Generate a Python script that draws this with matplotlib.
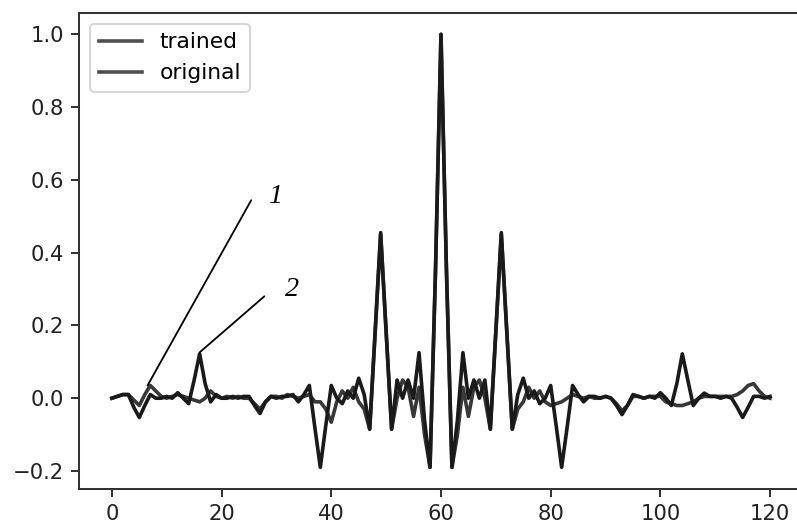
import numpy as np
import matplotlib
matplotlib.use("Agg")
import matplotlib.pyplot as plt

# sample index 0..120
x = np.arange(121)

trained = [0.0, 0.005, 0.01, 0.01, -0.005, -0.02, 0.01, 0.035, 0.02, 0.005,
           0.0, 0.005, 0.01, 0.005, 0.0, -0.005, -0.01, 0.0, 0.02, 0.005,
           0.0, 0.005, 0.0, 0.005, 0.0, 0.0, -0.015, -0.03, -0.01, 0.005,
           0.005, 0.0, 0.01, 0.005, 0.0, 0.005, 0.01, -0.01, -0.01, -0.03,
           -0.066, -0.01, 0.02, 0.0, 0.03, -0.01, -0.03, -0.085, 0.18, 0.45,
           0.18, -0.085, 0.0, 0.05, 0.03, -0.05, 0.03, -0.1, -0.19, 0.35,
           1.0, 0.35, -0.19, -0.1, 0.03, -0.05, 0.03, 0.05, 0.0, -0.085,
           0.18, 0.45, 0.18, -0.085, -0.03, -0.01, 0.03, 0.0, 0.02, -0.01,
           -0.02, -0.015, -0.01, 0.0, 0.01, 0.005, 0.0, 0.005, 0.0, 0.0,
           0.005, 0.0, -0.015, -0.035, -0.02, 0.005, 0.005, 0.0, 0.005, 0.005,
           0.005, -0.01, -0.015, -0.02, -0.02, -0.015, -0.01, 0.0, 0.005, 0.005,
           0.005, 0.005, 0.005, 0.005, 0.01, 0.02, 0.035, 0.04, 0.02, 0.005,
           0.0]

original = [0.0, 0.005, 0.01, 0.01, -0.025, -0.053, -0.02, 0.01, 0.0, 0.0,
            0.005, 0.0, 0.015, 0.0, -0.015, 0.05, 0.122, 0.04, -0.01, 0.01,
            0.0, 0.0, 0.005, 0.0, 0.005, 0.005, -0.02, -0.042, -0.01, 0.005,
            0.0, 0.005, 0.005, 0.01, -0.01, 0.01, 0.035, -0.08, -0.19, -0.075,
            0.035, 0.0, -0.015, 0.02, 0.0, 0.055, 0.01, -0.085, 0.185, 0.455,
            0.185, -0.085, 0.05, 0.0, 0.05, 0.0, 0.125, -0.06, -0.19, 0.35,
            1.0, 0.35, -0.19, -0.06, 0.125, 0.0, 0.05, 0.0, 0.05, -0.085,
            0.185, 0.455, 0.185, -0.085, 0.01, 0.055, 0.0, 0.02, -0.015, 0.0,
            0.035, -0.075, -0.19, -0.08, 0.035, 0.01, -0.01, 0.005, 0.005, 0.0,
            0.005, 0.0, -0.02, -0.045, -0.02, 0.01, 0.005, 0.0, 0.005, 0.0,
            0.015, 0.0, -0.02, 0.04, 0.122, 0.05, -0.02, 0.0, 0.014, 0.005,
            0.005, 0.0, 0.005, 0.0, -0.025, -0.053, -0.025, 0.005, 0.005, 0.0,
            0.005]

fig = plt.figure(figsize=(797 / 145, 524 / 145), dpi=145)
ax = fig.add_axes([0.0991, 0.0668, 0.9084, 0.909])

ax.plot(x, trained, color='#383838', lw=1.8, label='trained')
ax.plot(x, original, color='#1a1a1a', lw=1.8, label='original')

ax.set_xticks([0, 20, 40, 60, 80, 100, 120])
ax.set_yticks([-0.2, 0.0, 0.2, 0.4, 0.6, 0.8, 1.0])
for s in ax.spines.values():
    s.set_color('#333333')
    s.set_linewidth(1.0)
ax.tick_params(colors='#333333', labelcolor='#222222', length=4, width=1.0,
               labelsize=10.5)

leg = ax.legend(loc='upper left', fontsize=10.8, handlelength=2.0)
for h in leg.get_lines():
    h.set_color('#505050')

# callouts
arr = dict(arrowstyle='-', color='black', lw=0.9, shrinkA=0, shrinkB=0)
ax.annotate('', xy=(6.5, 0.035), xytext=(25.4, 0.544), arrowprops=arr)
ax.annotate('', xy=(16.0, 0.126), xytext=(27.8, 0.28), arrowprops=arr)
ax.text(30.0, 0.555, '1', family='Liberation Serif', style='italic',
        fontsize=14, ha='center', va='center')
ax.text(32.9, 0.300, '2', family='Liberation Serif', style='italic',
        fontsize=14, ha='center', va='center')

fig.savefig('out.png', dpi=145)
